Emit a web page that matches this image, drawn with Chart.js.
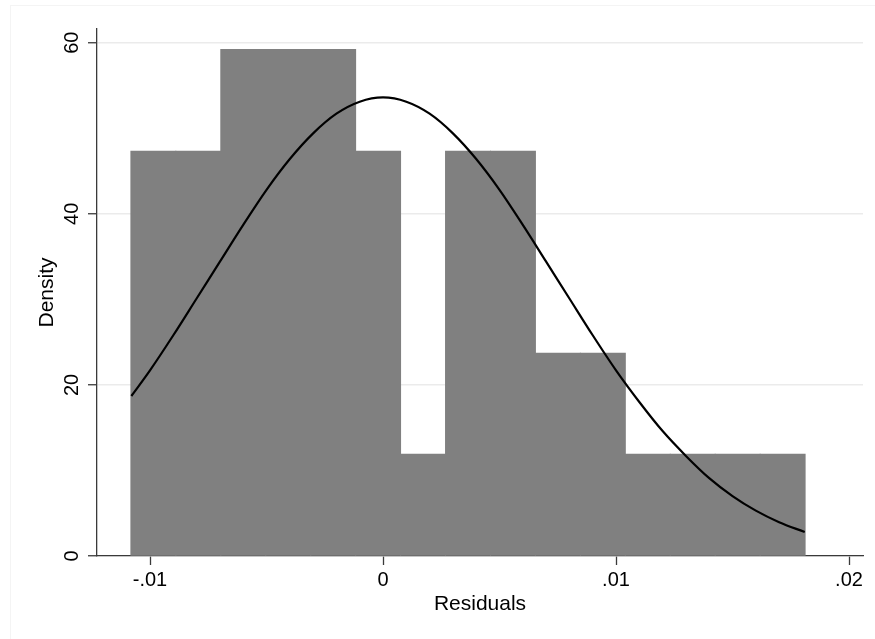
<!DOCTYPE html>
<html>
<head>
<meta charset="utf-8">
<script src="https://cdn.jsdelivr.net/npm/chart.js@4.4.0/dist/chart.umd.min.js"></script>
<style>
  html, body { margin: 0; padding: 0; background: #ffffff; }
  #wrap { position: relative; width: 875px; height: 639px; overflow: hidden; }
  #frame { position: absolute; left: 10px; top: 5px; width: 900px; height: 700px; border: 1px solid #f4f4f4; box-sizing: border-box; }
  canvas { position: absolute; left: 0; top: 0; }
</style>
</head>
<body>
<div id="wrap">
  <div id="frame"></div>
  <canvas id="c" width="875" height="639"></canvas>
</div>
<script>
// Histogram bins (bin centres) and densities
const binCenters = [-0.009856, -0.007927, -0.005998, -0.004069, -0.002140, -0.000211,
                    0.001719, 0.003648, 0.005577, 0.007506, 0.009435, 0.011364,
                    0.013293, 0.015222, 0.017151];
const binDensity = [47.3, 47.3, 59.2, 59.2, 59.2, 47.3, 11.9, 47.3, 47.3, 23.7, 23.7, 11.9, 11.9, 11.9, 11.9];

// Normal density curve
const curveX = [-0.0108, -0.010, -0.009, -0.008, -0.007, -0.006, -0.005, -0.004, -0.003, -0.002, -0.001,
                0.000, 0.001, 0.002, 0.003, 0.004, 0.005, 0.006, 0.007, 0.008, 0.009, 0.010,
                0.011, 0.012, 0.013, 0.014, 0.015, 0.016, 0.017, 0.0181];
const curveY = [18.7, 21.7, 25.8, 30.1, 34.4, 38.7, 42.8, 46.4, 49.4, 51.7, 53.1,
                53.6, 53.1, 51.7, 49.4, 46.4, 42.8, 38.7, 34.4, 30.1, 25.8, 21.7,
                18.0, 14.6, 11.7, 9.1, 7.0, 5.3, 3.95, 2.8];

// Tick values and labels
const xTickValues = [-0.01, 0, 0.01, 0.02];
const xTickLabels = ['-.01', '0', '.01', '.02'];
const yTickValues = [0, 20, 40, 60];
const yTickLabels = ['0', '20', '40', '60'];

const FONT = "'Liberation Sans', Arial, Helvetica, sans-serif";
const AXIS = '#3a3a3a';

new Chart(document.getElementById('c'), {
  data: {
    datasets: [
      {
        type: 'line',
        data: curveX.map((x, i) => ({ x: x, y: curveY[i] })),
        borderColor: '#000000',
        borderWidth: 2.2,
        pointRadius: 0,
        fill: false,
        cubicInterpolationMode: 'monotone',
        order: 0
      },
      {
        type: 'bar',
        data: binCenters.map((x, i) => ({ x: x, y: binDensity[i] })),
        backgroundColor: '#808080',
        borderWidth: 0,
        barPercentage: 1.0,
        categoryPercentage: 1.0,
        inflateAmount: 0.5,
        order: 1
      }
    ]
  },
  options: {
    responsive: false,
    animation: false,
    events: [],
    layout: { padding: { top: 29, right: 12, bottom: 0, left: 0 } },
    plugins: { legend: { display: false }, tooltip: { enabled: false } },
    scales: {
      x: {
        type: 'linear',
        min: -0.012275,
        max: 0.0206,
        offset: false,
        afterBuildTicks: (s) => { s.ticks = xTickValues.map(v => ({ value: v })); },
        afterFit: (s) => { s.height = 83; },
        ticks: {
          autoSkip: false,
          maxRotation: 0,
          padding: 3,
          color: '#000000',
          font: { family: FONT, size: 20 },
          callback: (v, i) => xTickLabels[i]
        },
        grid: { offset: false, drawOnChartArea: false, drawTicks: true, tickLength: 9, tickColor: AXIS, tickWidth: 1.3 },
        border: { display: true, color: AXIS, width: 1.3 },
        title: {
          display: true,
          text: 'Residuals',
          color: '#000000',
          font: { family: FONT, size: 21 },
          padding: { top: 0, bottom: 22 }
        }
      },
      y: {
        type: 'linear',
        min: 0,
        max: 61.6,
        afterBuildTicks: (s) => { s.ticks = yTickValues.map(v => ({ value: v })); },
        afterFit: (s) => { s.width = 97; },
        ticks: {
          autoSkip: false,
          minRotation: 90,
          maxRotation: 90,
          crossAlign: 'center',
          padding: 4,
          color: '#000000',
          font: { family: FONT, size: 20 },
          callback: (v, i) => yTickLabels[i]
        },
        grid: { offset: false, drawOnChartArea: true, color: '#ebebeb', lineWidth: 1.5, drawTicks: true, tickLength: 9, tickColor: AXIS, tickWidth: 1.3 },
        border: { display: true, color: AXIS, width: 1.3 },
        title: {
          display: true,
          text: 'Density',
          color: '#000000',
          font: { family: FONT, size: 21 },
          padding: { top: 35, bottom: 0 }
        }
      }
    }
  }
});
</script>
</body>
</html>
